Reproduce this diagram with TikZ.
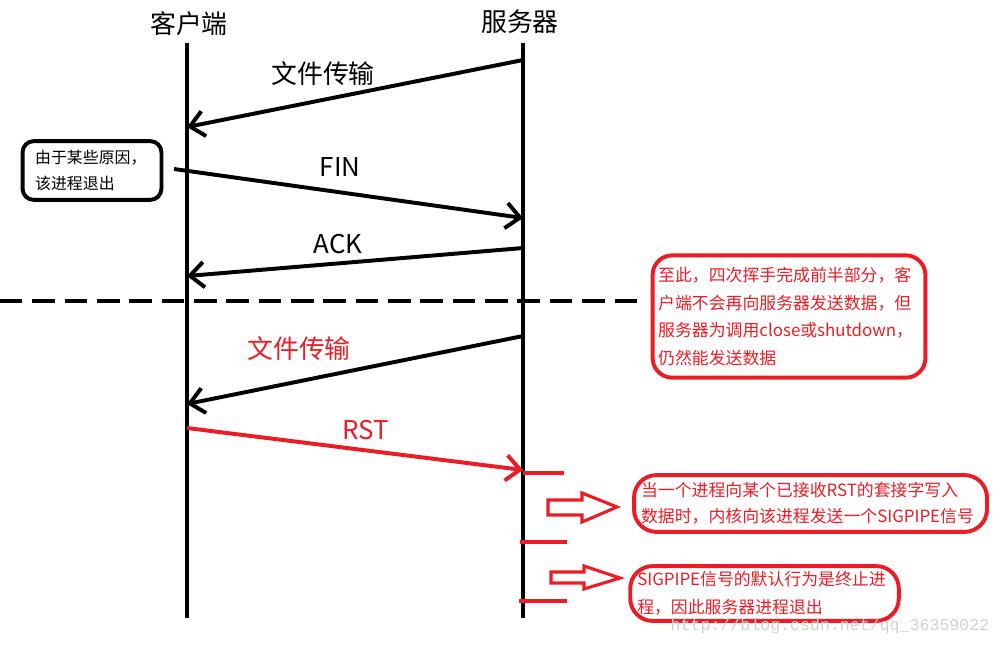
\documentclass[tikz,border=0pt]{standalone}
\usepackage{fontspec}
\setmainfont{Noto Sans CJK SC}
\newfontfamily\urlfont{Liberation Mono}
\usetikzlibrary{arrows.meta}
\definecolor{paintred}{HTML}{ED1C24}

\tikzset{
    life/.style={line width=2.8pt},
    msg/.style={line width=2.8pt, -{Straight Barb[length=10pt,width=18pt]}},
    redmsg/.style={msg, paintred},
    tick/.style={line width=2.6pt, paintred},
    note/.style={draw, line width=2.8pt, rounded corners=8pt, align=left},
    rednote/.style={note, paintred, text=paintred},
    hollow/.style={draw=paintred, line width=2.2pt, fill=white, line join=miter},
    bigtext/.style={font=\fontsize{18.4}{22}\selectfont},
    smalltext/.style={font=\fontsize{12}{19.8}\selectfont}
}

\begin{document}
\begin{tikzpicture}[x=0.025cm, y=-0.025cm]
    \useasboundingbox (0,0) rectangle (1003,646);

    \node[bigtext] at (189, 24) (cli) {客户端};
    \node[bigtext] at (520, 22) (srv) {服务器};

    \coordinate (c0) at (187, 43);
    \coordinate (c1) at (187, 618);
    \coordinate (s0) at (523, 43);
    \coordinate (s1) at (523, 618);
    \draw[life] (c0) -- (c1);
    \draw[life] (s0) -- (s1);

    \node[note, text width=80.8pt, inner xsep=9pt, minimum height=41.8pt,
          font=\fontsize{11.3}{19.1}\selectfont] at (92, 170.5) (quit) {由于某些原因，\\该进程退出};

    \coordinate (m1a) at (523, 60);
    \coordinate (m1b) at (187, 127);
    \coordinate (m2a) at (174, 169);
    \coordinate (m2b) at (523, 218);
    \coordinate (m3a) at (523, 248);
    \coordinate (m3b) at (187, 276);
    \coordinate (m4a) at (523, 336);
    \coordinate (m4b) at (187, 404);
    \coordinate (m5a) at (187, 428);
    \coordinate (m5b) at (523, 470);

    \draw[msg] (m1a) -- (m1b);
    \draw[msg] (m2a) -- (m2b);
    \draw[msg] (m3a) -- (m3b);
    \draw[msg] (m4a) -- (m4b);
    \draw[redmsg] (m5a) -- (m5b);

    \node[bigtext] at (323, 74) (l1) {文件传输};
    \node[bigtext] at (340, 167) (l2) {FIN};
    \node[bigtext] at (338, 244) (l3) {ACK};
    \node[bigtext, paintred] at (299, 349) (l4) {文件传输};
    \node[bigtext, paintred] at (366, 430) (l5) {RST};

    % half-close line
    \coordinate (d0) at (0, 301);
    \coordinate (d1) at (645, 301);
    \draw[line width=2.8pt, dash pattern=on 16pt off 7pt] (d0) -- (d1);

    \node[rednote, smalltext, rounded corners=14pt, text width=186pt, inner xsep=4pt,
          minimum height=87pt] at (789, 316.5) (half) {至此，四次挥手完成前半部分，客\\户端不会再向服务器发送数据，但\\服务器为调用close或shutdown，\\仍然能发送数据};

    % server side
    \coordinate (t1a) at (523, 473);
    \coordinate (t1b) at (564, 473);
    \coordinate (t2a) at (520, 542);
    \coordinate (t2b) at (567, 542);
    \coordinate (t3a) at (519, 601);
    \coordinate (t3b) at (567, 601);
    \draw[tick] (t1a) -- (t1b);
    \draw[tick] (t2a) -- (t2b);
    \draw[tick] (t3a) -- (t3b);

    \draw[hollow] (548, 500) -- (582, 500) -- (582, 493) -- (617, 507) -- (582, 522) -- (582, 515) -- (548, 515) -- cycle;
    \draw[hollow] (551, 572) -- (584, 572) -- (584, 566) -- (620, 578) -- (584, 589) -- (584, 583) -- (551, 583) -- cycle;

    \node[rednote, font=\fontsize{12}{18.4}\selectfont, rounded corners=16pt, text width=241pt, inner xsep=5pt,
          inner ysep=2pt, minimum height=40.4pt] at (810.5, 503.5) (sig) {当一个进程向某个已接收RST的套接字写入\\数据时，内核向该进程发送一个SIGPIPE信号};
    \node[rednote, smalltext, rounded corners=16pt, text width=181pt, inner xsep=5pt,
          inner ysep=2pt, minimum height=39pt] at (764.5, 593.5) (dflt) {SIGPIPE信号的默认行为是终止进\\程，因此服务器进程退出};

    \node[text=black!18, font=\urlfont\fontsize{11.8}{12}\selectfont] at (830, 626) (mark) {http://blog.csdn.net/qq\_36359022};
\end{tikzpicture}
\end{document}
